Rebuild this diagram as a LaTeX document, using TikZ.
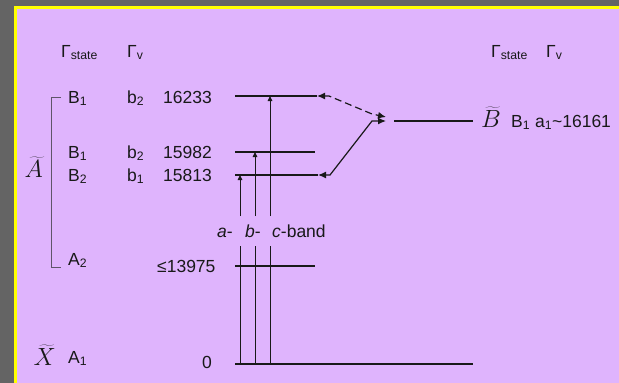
\documentclass[tikz,border=0pt]{standalone}
\usepackage{fontspec}
\setmainfont{Liberation Sans}
\usetikzlibrary{arrows.meta}
\definecolor{bggray}{RGB}{100,100,100}
\definecolor{panel}{RGB}{223,180,253}
\definecolor{frameyellow}{RGB}{255,255,0}
\definecolor{ink}{RGB}{25,25,25}
\definecolor{brk}{RGB}{95,85,105}
\begin{document}
\begin{tikzpicture}[x=1pt,y=-1pt,
  lbl/.style={inner sep=0pt, anchor=base west, text=ink, font=\fontsize{17.5}{20}\selectfont},
  big/.style={inner sep=0pt, anchor=base east, text=ink, font=\fontsize{26}{30}\selectfont},
  lvl/.style={draw=ink, line width=2pt},
  lvlthin/.style={draw=ink, line width=1.3pt},
  vline/.style={draw=ink, line width=1pt},
  vt/.style={draw=ink, line width=1pt, -{Triangle[length=5pt,width=4.5pt]}},
  trans/.style={draw=ink, line width=1.2pt, {Latex[length=8pt,width=7pt]}-{Latex[length=8pt,width=7pt]}},
  bracketline/.style={draw=brk, line width=0.8pt}]
\useasboundingbox (0,0) rectangle (619,383);
% background and panel
\fill[bggray] (0,0) rectangle (619,383);
\fill[frameyellow] (14,6) rectangle (619,383);
\fill[panel] (17,9) rectangle (619,383);

% level coordinates
\coordinate (L1w) at (235,96);  \coordinate (L1e) at (317,96);
\coordinate (L2w) at (235,152); \coordinate (L2e) at (315,152);
\coordinate (L3w) at (235,175); \coordinate (L3e) at (318,175);
\coordinate (L4w) at (235,266); \coordinate (L4e) at (315,266);
\coordinate (G0w) at (235,364); \coordinate (G0e) at (473,364);
\coordinate (Bw) at (394,121);  \coordinate (Be) at (473,121);

% levels
\draw[lvl] (L1w) -- (L1e);
\draw[lvlthin] (L2w) -- (L2e);
\draw[lvlthin] (L3w) -- (L3e);
\draw[lvl] (L4w) -- (L4e);
\draw[lvl, line width=2.4pt] (G0w) -- (G0e);
\draw[lvl] (Bw) -- (Be);

% vertical transitions (broken by the band label)
\coordinate (aB) at (240,364); \coordinate (aL) at (240,246); \coordinate (aH) at (240,216); \coordinate (aT) at (240,175);
\coordinate (bB) at (255,364); \coordinate (bL) at (255,246); \coordinate (bH) at (255,216); \coordinate (bT) at (255,152);
\coordinate (cB) at (270,364); \coordinate (cL) at (270,246); \coordinate (cH) at (270,216); \coordinate (cT) at (270,96);
\draw[vline] (aB) -- (aL); \draw[vt] (aH) -- (aT);
\draw[vline] (bB) -- (bL); \draw[vt] (bH) -- (bT);
\draw[vline] (cB) -- (cL); \draw[vt] (cH) -- (cT);

% coupling arrows to B state
\coordinate (d1) at (329,96); \coordinate (d2) at (372,114); \coordinate (dT) at (386,117);
\coordinate (s1) at (330,175); \coordinate (s2) at (372,121); \coordinate (sT) at (386,121);
\draw[trans, dash pattern=on 7pt off 4pt] (L1e) -- (d1) -- (d2) -- (dT);
\draw[trans] (L3e) -- (s1) -- (s2) -- (sT);

% bracket for A state
\coordinate (k1) at (61,97); \coordinate (k2) at (51,97); \coordinate (k3) at (51,267); \coordinate (k4) at (61,267);
\draw[bracketline] (k1) -- (k2) -- (k3) -- (k4);

% headers
\node[lbl] (gsL) at (61,57) {Γ\textsubscript{state}};
\node[lbl] (gvL) at (127,57) {Γ\textsubscript{v}};
\node[lbl] (gsR) at (491,57) {Γ\textsubscript{state}};
\node[lbl] (gvR) at (546,57) {Γ\textsubscript{v}};

% rows
\node[lbl] (r1s) at (68,103) {B\textsubscript{1}};
\node[lbl] (r1v) at (127,103) {b\textsubscript{2}};
\node[lbl] (r1e) at (163,103) {16233};
\node[lbl] (r2s) at (68,158) {B\textsubscript{1}};
\node[lbl] (r2v) at (127,158) {b\textsubscript{2}};
\node[lbl] (r2e) at (163,158) {15982};
\node[lbl] (r3s) at (68,181) {B\textsubscript{2}};
\node[lbl] (r3v) at (127,181) {b\textsubscript{1}};
\node[lbl] (r3e) at (163,181) {15813};
\node[lbl] (r4s) at (68,265) {A\textsubscript{2}};
\node[lbl] (r4e) at (157,272) {≤13975};
\node[lbl] (r5s) at (68,363) {A\textsubscript{1}};
\node[lbl] (r5e) at (202,368) {0};

% state names
\node[big] (At) at (43,177) {$\widetilde{A}$};
\node[big] (Xt) at (56,365) {$\widetilde{X}$};
\node[big] (Bt) at (501,127) {$\widetilde{B}$};
\node[lbl] (Bl) at (511,127) {B\textsubscript{1} a\textsubscript{1}\textasciitilde16161};

% band labels
\node[lbl] (ba) at (217,237) {\textit{a}-};
\node[lbl] (bb) at (245,237) {\textit{b}-};
\node[lbl] (bc) at (272,237) {\textit{c}-band};
\end{tikzpicture}
\end{document}
